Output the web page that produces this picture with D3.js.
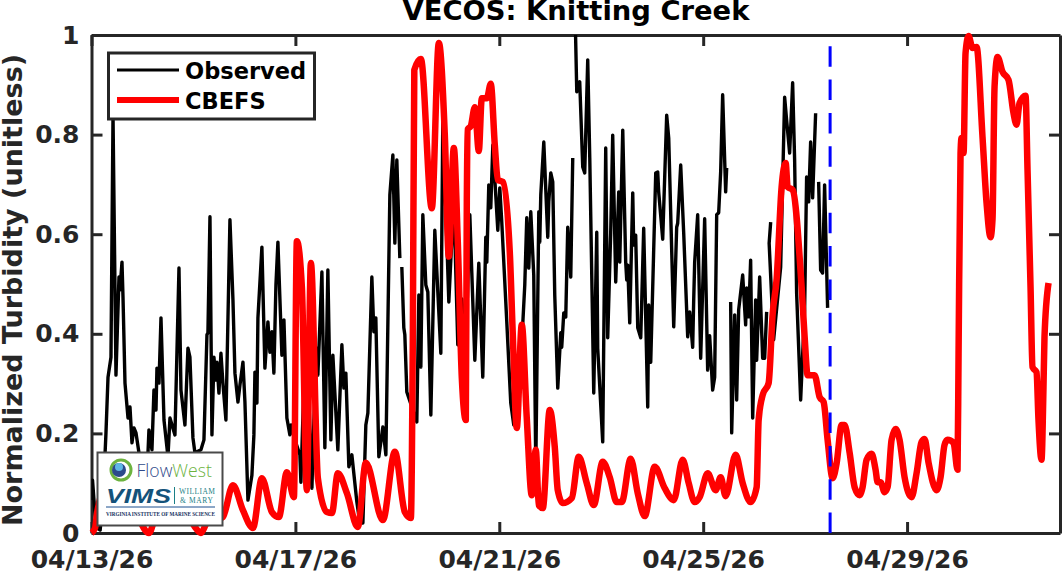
<!DOCTYPE html>
<html><head><meta charset="utf-8">
<script src="https://cdn.jsdelivr.net/npm/d3@7"></script>
<style>html,body{margin:0;padding:0;background:#fff}svg{display:block}text{font-family:"DejaVu Sans",sans-serif;font-weight:bold}</style>
</head><body><svg id="c" width="1063" height="571"></svg>
<script>
const chartTitle = "VECOS: Knitting Creek";
const yTitle = "Normalized Turbidity (unitless)";
const xTicks = [0,4,8,12,16];
const xTickLabels = ["04/13/26","04/17/26","04/21/26","04/25/26","04/29/26"];
const yTicks = [0,0.2,0.4,0.6,0.8,1];
const yTickLabels = ["0","0.2","0.4","0.6","0.8","1"];
const seriesNames = ["Observed","CBEFS"];
const forecastDay = 14.49;
// Days since 04/13/26; null marks a gap in the record
const observedDays = [0,.02,.07,.11,.17,.225,.284,.324,.382,.422,.48,.539,.559,.598,.618,.657,.716,.755,.794,.833,.873,.931,1.01,1.069,1.127,1.186,1.225,1.265,1.284,1.324,1.363,1.422,1.5,1.539,1.637,1.716,1.755,1.833,1.892,1.931,1.99,2.029,2.147,2.206,2.265,2.284,2.324,2.363,2.402,2.441,2.461,2.5,2.539,2.578,2.637,2.716,2.775,2.814,2.873,2.912,2.971,3.01,3.069,3.147,3.186,3.206,3.245,3.265,3.343,3.402,3.461,3.5,3.539,3.578,3.618,3.657,3.735,3.775,3.833,3.892,3.912,3.99,4.088,4.108,4.186,4.265,4.324,4.363,4.422,4.441,4.48,4.52,4.578,4.637,4.696,4.735,4.833,4.912,4.951,4.99,5.049,5.108,5.206,5.265,5.324,5.382,5.422,5.5,5.539,5.578,5.637,5.716,5.775,5.853,5.912,5.951,5.99,6.049,6.07,
6.088,6.127,6.147,6.186,6.225,6.304,6.382,6.422,6.461,6.5,6.559,6.598,6.657,6.735,6.853,6.892,7.01,7.049,7.108,7.186,7.265,7.343,7.422,7.461,7.52,7.598,7.676,7.735,7.755,7.794,7.833,7.873,7.971,8.01,8.049,8.147,8.225,8.284,8.363,8.5,8.539,8.578,8.618,8.676,8.716,8.775,8.794,8.814,8.873,8.951,8.971,9.01,9.049,9.088,9.147,9.206,9.225,9.265,9.304,9.343,9.402,9.441,9.47,
9.49,9.52,9.578,9.637,9.676,9.735,9.775,9.853,9.912,9.931,10.029,10.088,10.127,10.186,10.225,10.284,10.343,10.363,10.422,10.48,10.5,10.52,10.559,10.618,10.637,10.676,10.716,10.775,10.833,10.912,10.931,10.971,11.069,11.108,11.127,11.206,11.284,11.324,11.422,11.48,11.5,11.559,11.618,11.696,11.735,11.794,11.814,11.833,11.892,11.951,12.029,12.088,12.127,12.186,12.225,12.265,12.304,12.343,12.382,12.441,12.461,12.5,
12.539,12.559,12.618,12.657,12.696,12.775,12.833,12.853,12.892,12.931,12.971,13.029,13.049,13.108,13.167,13.206,13.245,13.28,
13.324,13.294,13.382,13.52,13.598,13.637,13.696,13.755,13.794,13.833,13.912,13.99,14.029,14.069,14.108,14.147,14.206,14.23,
14.265,14.304,14.343,14.382,14.441];
const observedValues = [.066,.106,.036,.01,.006,.066,.201,.313,.353,.839,.317,.514,.488,.544,.474,.301,.231,.253,.181,.211,.201,.161,.116,.066,.207,.167,.287,.247,.331,.301,.432,.227,.153,.231,.197,.532,.287,.217,.371,.353,.191,.161,.167,.187,.398,.402,.635,.197,.353,.307,.343,.281,.361,.301,.227,.629,.468,.321,.263,.297,.343,.263,.066,.116,.197,.323,.261,.432,.574,.331,.424,.363,.404,.321,.498,.584,.357,.428,.231,.197,.217,.187,.157,.102,.363,.267,.09,.227,.371,.317,.418,.524,.171,.528,.187,.357,.167,.378,.291,.321,.133,.157,.062,.02,.02,.217,.241,.514,.404,.432,.153,.213,.157,.679,.759,.582,.749,.552,null,
.534,.412,.398,.283,.271,.247,.223,.478,.333,.639,.498,.484,.237,.608,.361,.833,.464,.548,.669,.378,.47,.367,.639,.522,.347,.542,.313,.594,.544,.699,.653,.779,.608,.693,.624,.424,.261,.217,.227,.498,.633,.532,.645,.518,.131,.645,.584,.679,.785,.594,.665,.723,.705,.478,.291,.402,.373,.442,.434,.614,.514,.753,null,
1.03,.886,.906,.735,.723,.95,.753,.281,.604,.371,.183,.773,.392,.604,.799,.504,.685,.544,.809,.544,.508,.538,.422,.683,.578,.598,.412,.392,.612,.253,.458,.343,.723,.725,.685,.59,.839,.793,.414,.614,.622,.739,.602,.394,.444,.373,.468,.544,.639,.351,.631,.327,.396,.287,.313,.639,.643,.725,.88,.685,.733,null,
.464,.201,.438,.267,.448,.518,.418,.492,.434,.548,.231,.468,.347,.514,.351,.351,.444,null,
.624,.582,.388,.534,.875,.829,.763,.904,.749,.482,.267,.448,.715,.665,.785,.673,.843,null,
.705,.528,.522,.699,.452];
const cbefsDays = [0,.07,.11,.26,.46,.66,.85,.95,1.127,1.245,1.44,1.637,1.833,2.03,2.147,2.265,2.42,2.578,2.775,2.97,3.167,3.343,3.539,3.676,3.833,3.971,4.029,4.127,4.225,4.304,4.441,4.618,4.716,4.833,5.01,5.225,5.382,5.716,5.951,6.147,6.265,6.304,6.333,6.461,6.676,6.814,6.931,7.01,7.108,7.186,7.265,7.343,7.363,7.382,7.441,7.52,7.598,7.657,7.755,7.833,7.912,7.971,8.069,8.206,8.265,8.343,8.441,8.539,8.637,8.716,8.775,8.853,8.99,9.088,9.147,9.245,9.422,9.559,9.716,9.853,10.029,10.167,10.304,10.402,10.578,10.716,10.853,11.049,11.245,11.422,11.598,11.716,11.833,11.931,12.088,12.245,12.343,12.441,12.637,12.775,12.931,13.049,13.088,13.167,13.284,13.363,13.441,13.539,13.618,13.657,13.755,13.931,13.99,14.049,14.186,14.284,14.363,14.441,14.539,14.618,14.716,14.775,14.873,14.971,15.069,15.127,15.206,15.304,15.382,15.422,15.48,15.559,15.618,15.696,15.775,15.853,15.951,16.088,16.186,16.284,16.343,16.422,16.578,16.657,16.735,16.794,16.912,16.99,17.01,17.049,17.069,17.108,17.147,17.206,17.284,17.363,17.48,17.559,17.637,17.676,17.716,17.775,17.873,17.99,18.088,18.147,18.206,18.324,18.363,18.422,18.461,18.539,18.578,18.637,18.676,18.696,18.775];
const cbefsValues = [0,.01,.04,.09,.10,.07,.05,.025,0,.03,.08,.09,.05,.012,0,.02,.025,.032,.096,.046,.01,.11,.042,.032,.122,.072,.586,.494,.086,.542,.11,.042,.04,.12,.08,.012,.141,.026,.163,.042,.03,.397,.93,.952,.652,.984,.8,.555,.773,.584,.311,.227,.667,.811,.817,.855,.767,.873,.873,.902,.779,.709,.705,.564,.398,.211,.418,.231,.076,.167,.056,.05,.247,.173,.086,.06,.07,.153,.1,.056,.143,.112,.062,.062,.149,.08,.034,.133,.09,.066,.147,.1,.062,.072,.12,.086,.112,.074,.157,.1,.062,.092,.227,.277,.301,.44,.51,.695,.743,.695,.689,.494,.394,.317,.317,.273,.263,.187,.11,.14,.217,.217,.161,.092,.076,.092,.147,.159,.127,.102,.102,.082,.092,.187,.209,.187,.112,.072,.12,.183,.189,.141,.086,.112,.177,.187,.181,.127,.36,.763,.793,.763,.964,.998,.974,.976,.795,.663,.594,.63,.896,.956,.926,.91,.843,.82,.863,.878,.729,.494,.333,.323,.227,.147,.293,.394,.502];

const svg = d3.select("#c");
const L=91.5,R=1060,T=35,B=533, AX="#262626", FS=25;
const x = d3.scaleLinear().domain([0,19]).range([L,R]);
const y = d3.scaleLinear().domain([0,1]).range([B,T]);

svg.append("defs").append("clipPath").attr("id","plot").append("rect")
  .attr("x",L).attr("y",T).attr("width",R-L).attr("height",B-T);

function styleAxis(g){
  g.selectAll("path").attr("stroke",AX).attr("stroke-width",3);
  g.selectAll("line").attr("stroke",AX).attr("stroke-width",3);
  g.selectAll("text").attr("fill",AX).attr("font-size",FS).attr("font-weight","bold").attr("font-family","DejaVu Sans");
}
const xa = svg.append("g").attr("transform",`translate(0,${B})`)
  .call(d3.axisBottom(x).tickValues(xTicks).tickFormat((d,i)=>xTickLabels[i]).tickSize(-11).tickSizeOuter(0).tickPadding(17));
styleAxis(xa);
const xt = svg.append("g").attr("transform",`translate(0,${T})`)
  .call(d3.axisTop(x).tickValues(xTicks).tickFormat("").tickSize(-11).tickSizeOuter(0));
styleAxis(xt);
const ya = svg.append("g").attr("transform",`translate(${L},0)`)
  .call(d3.axisLeft(y).tickValues(yTicks).tickFormat((d,i)=>yTickLabels[i]).tickSize(-11).tickSizeOuter(0).tickPadding(12));
styleAxis(ya);
const yr = svg.append("g").attr("transform",`translate(${R},0)`)
  .call(d3.axisRight(y).tickValues(yTicks).tickFormat("").tickSize(-11).tickSizeOuter(0));
styleAxis(yr);

const obsLine = d3.line().defined(d=>d[1]!==null).x(d=>x(d[0])).y(d=>y(d[1]));
svg.append("path").attr("clip-path","url(#plot)")
  .attr("d",obsLine(observedDays.map((d,i)=>[d,observedValues[i]])))
  .attr("fill","none").attr("stroke","#000").attr("stroke-width",3.4).attr("stroke-linejoin","round");
const modLine = d3.line().curve(d3.curveMonotoneX).x(d=>x(d[0])).y(d=>y(d[1]));
svg.append("path")
  .attr("d",modLine(cbefsDays.map((d,i)=>[d,cbefsValues[i]])))
  .attr("fill","none").attr("stroke","#ff0000").attr("stroke-width",6.5).attr("stroke-linejoin","round");
svg.append("line").attr("x1",x(forecastDay)).attr("x2",x(forecastDay)).attr("y1",y(0)).attr("y2",y(1))
  .attr("stroke","#0000ff").attr("stroke-width",3).attr("stroke-dasharray","20.5 12.8");

svg.append("text").attr("x",576).attr("y",20).attr("text-anchor","middle").attr("font-size",27.4).attr("fill","#000").text(chartTitle);
svg.append("text").attr("transform","translate(22,290) rotate(-90)").attr("text-anchor","middle").attr("font-size",27).attr("fill",AX).text(yTitle);

const lg = svg.append("g");
lg.append("rect").attr("x",108.5).attr("y",53).attr("width",206).attr("height",66).attr("fill","#fff").attr("stroke",AX).attr("stroke-width",3);
lg.append("line").attr("x1",117).attr("x2",179).attr("y1",70).attr("y2",70).attr("stroke","#000").attr("stroke-width",3);
lg.append("line").attr("x1",117).attr("x2",179).attr("y1",100).attr("y2",100).attr("stroke","#ff0000").attr("stroke-width",6);
lg.append("text").attr("x",185).attr("y",79).attr("font-size",22.5).attr("fill","#000").text(seriesNames[0]);
lg.append("text").attr("x",185).attr("y",109).attr("font-size",22.5).attr("fill","#000").text(seriesNames[1]);

const lo = svg.append("g");
lo.append("rect").attr("x",97.5).attr("y",452.5).attr("width",125).attr("height",73).attr("fill","#fff").attr("stroke","#4a4a4a").attr("stroke-width",2);
lo.append("circle").attr("cx",121).attr("cy",470).attr("r",10).attr("fill","#fff").attr("stroke","#6db33f").attr("stroke-width",3);
lo.append("circle").attr("cx",119).attr("cy",470).attr("r",7).attr("fill","#2b4a8b");
lo.append("circle").attr("cx",119).attr("cy",467).attr("r",4).attr("fill","#5fb7e5");
const ff = lo.append("text").attr("x",136.5).attr("y",477).attr("font-size",17.6).style("font-family","'Open Sans'").style("font-weight","300");
ff.append("tspan").attr("fill","#2f4a8a").text("Flow");
ff.append("tspan").attr("fill","#6db33f").text("West");
lo.append("text").attr("x",106).attr("y",503).attr("font-size",20).attr("textLength",65).attr("lengthAdjust","spacingAndGlyphs").attr("fill","#14527a").style("font-style","italic").style("font-family","'Liberation Sans'").text("VIMS");
lo.append("line").attr("x1",174.5).attr("x2",174.5).attr("y1",487).attr("y2",504).attr("stroke","#1b7f86").attr("stroke-width",1);
lo.append("text").attr("x",179).attr("y",494).attr("font-size",7.5).attr("textLength",36).attr("fill","#1b7f86").style("font-family","'Liberation Serif'").style("font-weight","normal").text("WILLIAM");
lo.append("text").attr("x",180).attr("y",503).attr("font-size",7.5).attr("textLength",33).attr("fill","#1b7f86").style("font-family","'Liberation Serif'").style("font-weight","normal").text("& MARY");
lo.append("line").attr("x1",106).attr("x2",215).attr("y1",507).attr("y2",507).attr("stroke","#1b4f8f").attr("stroke-width",1);
lo.append("text").attr("x",106).attr("y",515.5).attr("font-size",6.5).attr("textLength",109).attr("lengthAdjust","spacingAndGlyphs").attr("fill","#14305e").style("font-family","'Liberation Serif'").text("VIRGINIA INSTITUTE OF MARINE SCIENCE");
</script></body></html>
